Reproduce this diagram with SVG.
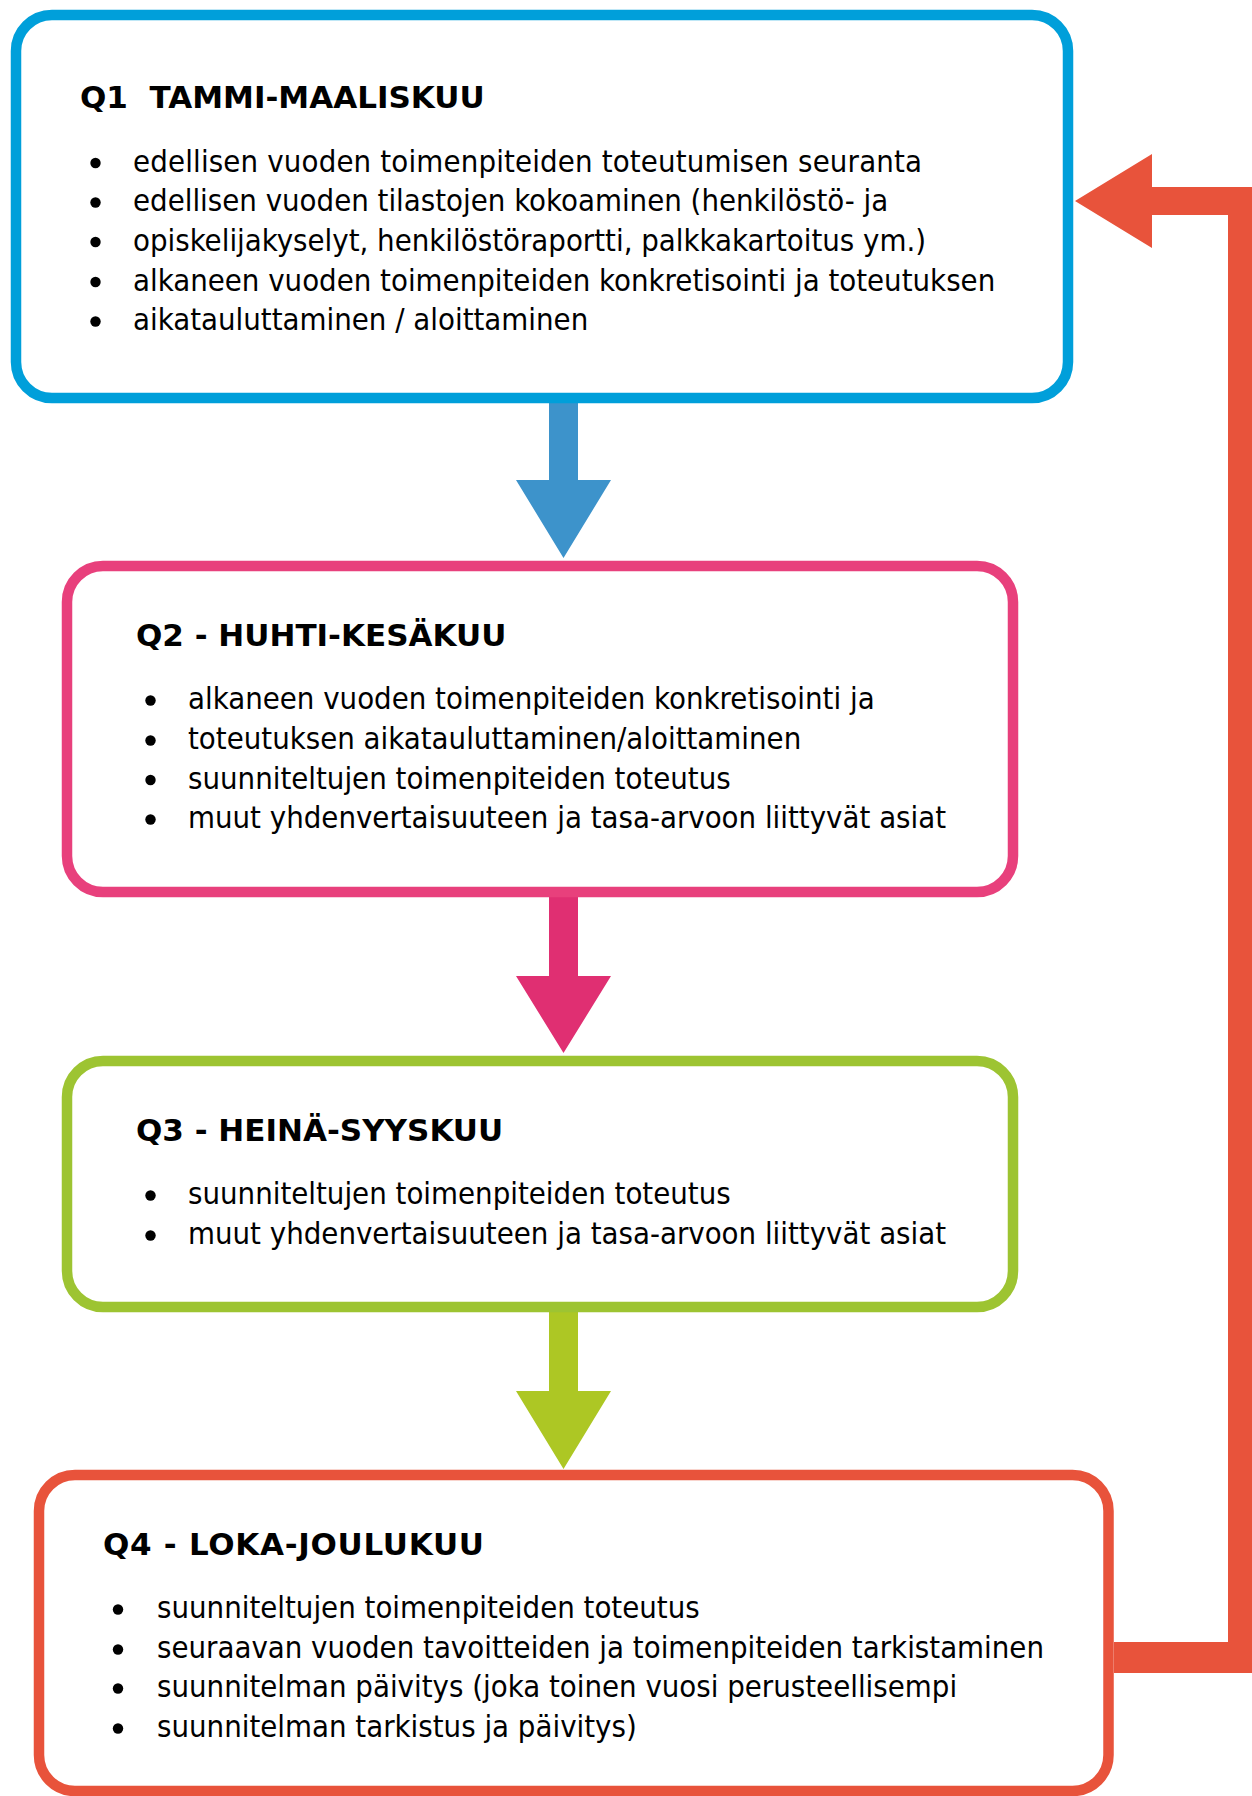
<svg xmlns="http://www.w3.org/2000/svg" width="1252" height="1796" viewBox="0 0 1252 1796">
<style>
.box{fill:#fff;stroke-width:10.5}
.t{font-family:"DejaVu Sans Condensed","DejaVu Sans",sans-serif;font-size:30.8px;fill:#000}
.h{font-family:"DejaVu Sans","Liberation Sans",sans-serif;font-weight:bold;font-size:31px;fill:#000}
.d{fill:#000}
</style>
<defs><circle id="dot" r="5.2" class="d"/></defs>
<rect width="1252" height="1796" fill="#fff"/>
<g id="connectors">
<polygon fill="#3D93CB" points="549,398 578,398 578,480 611,480 563.5,558 516,480 549,480"/>
<polygon fill="#E02F72" points="549,892 578,892 578,976 611,976 563.5,1053 516,976 549,976"/>
<polygon fill="#ADC724" points="549,1307 578,1307 578,1391 611,1391 563.5,1469 516,1391 549,1391"/>
<polygon fill="#E8533B" points="1075,201 1152,154 1152,187 1256,187 1256,1673 1114,1673 1114,1642 1228,1642 1228,215 1152,215 1152,248"/>
</g>
<g id="q1">
<rect class="box" x="16" y="15" width="1052" height="383" rx="36" stroke="#009FDA"/>
<text class="h" x="80" y="108" xml:space="preserve">Q1  TAMMI-MAALISKUU</text>
<use href="#dot" x="95.5" y="163"/><text class="t" x="133" y="171.5" textLength="789">edellisen vuoden toimenpiteiden toteutumisen seuranta</text>
<use href="#dot" x="95.5" y="202.5"/><text class="t" x="133" y="211">edellisen vuoden tilastojen kokoaminen (henkilöstö- ja</text>
<use href="#dot" x="95.5" y="242"/><text class="t" x="133" y="250.5">opiskelijakyselyt, henkilöstöraportti, palkkakartoitus ym.)</text>
<use href="#dot" x="95.5" y="282"/><text class="t" x="133" y="290.5">alkaneen vuoden toimenpiteiden konkretisointi ja toteutuksen</text>
<use href="#dot" x="95.5" y="321.5"/><text class="t" x="133" y="330">aikatauluttaminen / aloittaminen</text>
</g>
<g id="q2">
<rect class="box" x="67" y="566" width="946" height="326" rx="36" stroke="#E8407C"/>
<text class="h" x="136" y="646">Q2 - HUHTI-KESÄKUU</text>
<use href="#dot" x="150.5" y="700.5"/><text class="t" x="188" y="709">alkaneen vuoden toimenpiteiden konkretisointi ja</text>
<use href="#dot" x="150.5" y="740.5"/><text class="t" x="188" y="749">toteutuksen aikatauluttaminen/aloittaminen</text>
<use href="#dot" x="150.5" y="780"/><text class="t" x="188" y="788.5">suunniteltujen toimenpiteiden toteutus</text>
<use href="#dot" x="150.5" y="819.5"/><text class="t" x="188" y="828">muut yhdenvertaisuuteen ja tasa-arvoon liittyvät asiat</text>
</g>
<g id="q3">
<rect class="box" x="67" y="1061" width="946" height="246" rx="36" stroke="#9DC432"/>
<text class="h" x="136" y="1141">Q3 - HEINÄ-SYYSKUU</text>
<use href="#dot" x="150.5" y="1195.5"/><text class="t" x="188" y="1204">suunniteltujen toimenpiteiden toteutus</text>
<use href="#dot" x="150.5" y="1235.5"/><text class="t" x="188" y="1244">muut yhdenvertaisuuteen ja tasa-arvoon liittyvät asiat</text>
</g>
<g id="q4">
<rect class="box" x="39" y="1475" width="1069.5" height="316" rx="36" stroke="#E8533B"/>
<text class="h" x="103" y="1555" textLength="381">Q4 - LOKA-JOULUKUU</text>
<use href="#dot" x="118" y="1609.5"/><text class="t" x="157" y="1618">suunniteltujen toimenpiteiden toteutus</text>
<use href="#dot" x="118" y="1649.5"/><text class="t" x="157" y="1658">seuraavan vuoden tavoitteiden ja toimenpiteiden tarkistaminen</text>
<use href="#dot" x="118" y="1688.5"/><text class="t" x="157" y="1697">suunnitelman päivitys (joka toinen vuosi perusteellisempi</text>
<use href="#dot" x="118" y="1728.5"/><text class="t" x="157" y="1737">suunnitelman tarkistus ja päivitys)</text>
</g>
</svg>
